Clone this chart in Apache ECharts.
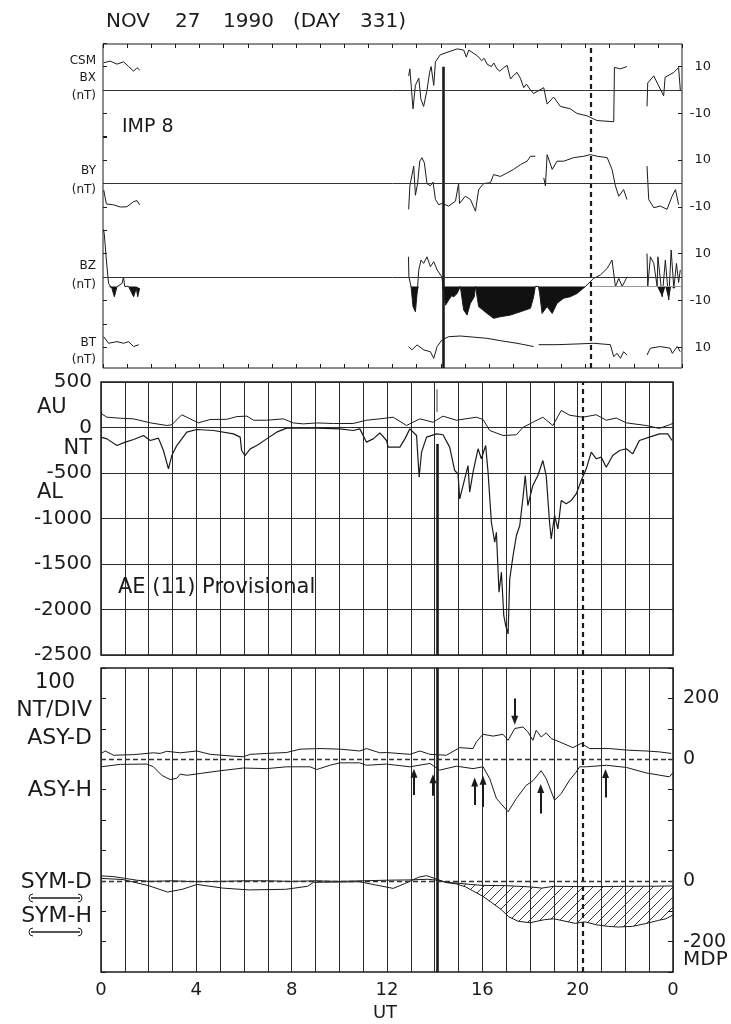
<!DOCTYPE html>
<html>
<head>
<meta charset="utf-8">
<script src="https://cdn.jsdelivr.net/npm/echarts@6/dist/echarts.min.js"></script>
<style>
  html, body { margin: 0; padding: 0; background: #ffffff; }
  #chart { width: 731px; height: 1024px; }
</style>
</head>
<body>
<div id="chart"></div>
<script>
// ---------------------------------------------------------------
// 27 November 1990 (day 331): IMP 8 field, AE indices, ASY/SYM
// All series are [UT hour, value]; null breaks a line at a data gap.
// ---------------------------------------------------------------

// IMP 8 field components (nT)
const BX = [
  [0.03,11.6],[0.3,12.3],[0.58,11],[0.85,12],[1.06,10],[1.27,8],[1.41,9.5],[1.52,8.5],[1.6,null],
  [12.67,6],[12.72,9],[12.85,-8],[12.95,2],[13.09,5],[13.18,-4],[13.29,-7],[13.43,0],[13.54,7.5],
  [13.6,10],[13.71,2],[13.78,12],[13.98,15],[14.26,16],[14.68,17.5],[14.95,17],[15.06,14],[15.16,17],
  [15.51,14.6],[15.7,12.5],[15.8,13.5],[15.92,11],[16.1,10],[16.2,11.5],[16.33,9],[16.45,8],[16.61,9.5],
  [16.75,10.5],[16.89,4.7],[17.0,6],[17.16,7.5],[17.3,5],[17.44,1],[17.55,2.5],[17.72,0],[17.85,-1.5],
  [17.92,-1],[18.27,1],[18.41,-6],[18.68,-3],[18.96,-7],[19.37,-8],[19.65,-10],[20.07,-11],[20.48,-13],
  [21.17,-13.5],[21.2,9.6],[21.45,9],[21.72,10],[21.8,null],
  [22.55,-7],[22.58,3],[22.83,6],[23.24,-2.5],[23.3,5.4],[23.66,7.5],[23.86,9.6],[23.93,0]
];
const BY = [
  [0.03,-2.8],[0.14,-8.7],[0.44,-9.1],[0.72,-10],[0.99,-9.9],[1.27,-7.7],[1.41,-7.3],[1.52,-9.1],[1.6,null],
  [12.67,-11],[12.72,-1],[12.88,7.4],[12.95,-5],[13.04,0],[13.13,9.5],[13.22,11],[13.32,8.8],[13.43,0],
  [13.57,-1],[13.68,0.6],[13.78,-6.8],[13.91,-9],[14.05,-8.5],[14.33,-9.6],[14.61,-7.5],[14.74,0],
  [14.78,-8.5],[15.02,-5.4],[15.23,-6.8],[15.44,-11.8],[15.57,-2.6],[15.78,0],[16.06,0.3],[16.19,3.8],
  [16.47,3],[16.75,4.5],[17.02,6],[17.3,8],[17.58,9.5],[17.72,11.6],[17.92,11.6],[17.95,null],
  [18.27,2.4],[18.34,-1],[18.41,12.3],[18.62,6],[18.82,9.5],[19.1,9.5],[19.51,11],[19.93,11.6],
  [20.2,12.3],[20.48,11.6],[20.9,11],[21.1,6],[21.24,-1],[21.38,-5.4],[21.58,-2.6],[21.72,-6.8],[21.8,null],
  [22.55,7.4],[22.62,-6.8],[22.83,-10.3],[23.1,-9.6],[23.38,-11],[23.59,-5.4],[23.73,-2.6],[23.86,-9]
];
const BZ = [
  [0.0,21],[0.05,18.6],[0.14,7.2],[0.23,-2.7],[0.37,-4.8],[0.47,-8.4],[0.58,-4.1],[0.79,-2.7],[0.85,0],
  [0.9,-4],[1.06,-4],[1.27,-8.4],[1.38,-4.8],[1.44,-8.4],[1.52,-4.8],[1.6,null],
  [12.66,8.6],[12.68,0],[12.77,-4.1],[12.85,-12.6],[12.95,-14.8],[13.02,-7],[13.09,3],[13.18,7.2],
  [13.29,5.8],[13.43,8.6],[13.57,4.4],[13.71,6.5],[13.85,3],[14.05,0],[14.12,-7],[14.2,-12],[14.33,-9.8],
  [14.45,-8],[14.54,-8.4],[14.68,-7],[14.81,-4],[14.95,-14],[15.09,-16.2],[15.23,-11.2],[15.39,-8.4],
  [15.44,-4],[15.57,-12.6],[15.92,-15.5],[16.19,-17.6],[16.47,-16.9],[16.89,-16.2],[17.3,-14.8],
  [17.72,-13.3],[17.85,-8.4],[17.92,-4],[18.05,-4],[18.1,-7],[18.2,-15.5],[18.41,-12.6],[18.62,-15.5],
  [18.82,-11.2],[19.1,-9],[19.37,-8.4],[19.65,-7],[20.0,-4],[20.34,-0.6],[20.62,0.9],[20.9,3.7],
  [21.1,7.2],[21.24,-4.1],[21.38,-0.6],[21.52,-4],[21.72,0],[21.8,null],
  [22.55,10],[22.58,-4],[22.69,8.6],[22.83,5.8],[22.97,-4],[23.0,8.6],[23.18,-8.4],[23.31,7.2],
  [23.45,-9.8],[23.55,11.5],[23.66,-4.8],[23.77,5.8],[23.86,-2.3],[23.93,3]
];
const BT = [
  [0.03,14.6],[0.23,11.8],[0.58,12.5],[0.85,11.8],[1.06,12.5],[1.27,10.4],[1.48,11.2],[1.6,null],
  [12.67,10.4],[12.8,9],[13.02,11.1],[13.29,9],[13.57,8.2],[13.71,5.4],[13.85,10.4],[14.05,13.2],
  [14.33,14.6],[14.81,14.9],[15.37,14.4],[15.92,13.9],[16.47,12.9],[17.16,11.8],[17.85,10.4],[17.95,null],
  [18.06,11.2],[18.82,11.2],[19.65,11.5],[20.34,11.8],[21.03,11.2],[21.17,6.1],[21.31,7.5],[21.45,5.4],
  [21.58,8.2],[21.72,6.8],[21.8,null],
  [22.55,6.8],[22.69,9.7],[23.1,10.4],[23.51,9.7],[23.6,7.5],[23.8,10.4],[23.93,8.2]
];
// BZ values below this level are shaded
const BZ_SHADE_LEVEL = -4;

// AE(11) provisional indices (nT)
const AU = [
  [0,154],[0.25,113],[0.81,102],[1.37,95],[2.07,51],[2.76,22],[2.97,30],[3.39,140],[3.74,95],[4.09,51],
  [4.58,88],[5.28,90],[5.7,120],[6.12,125],[6.4,80],[6.95,80],[7.65,95],[8.07,50],[8.49,40],[9.05,50],
  [9.75,44],[10.58,44],[11.14,80],[11.7,95],[12.26,113],[12.82,22],[13.38,95],[13.93,58],[14.35,125],
  [14.91,80],[15.75,113],[16.03,88],[16.31,-33],[16.87,-88],[17.43,-80],[17.7,0],[18.12,58],[18.54,113],
  [18.96,22],[19.31,187],[19.66,135],[20.22,113],[20.78,140],[21.2,80],[21.62,104],[22.04,51],
  [22.87,22],[23.43,-10],[23.85,30],[24,45]
];
const AL = [
  [0,-106],[0.25,-125],[0.67,-198],[1.02,-161],[1.37,-132],[1.78,-88],[2.07,-143],[2.41,-117],[2.62,-253],
  [2.83,-454],[2.97,-308],[3.18,-198],[3.6,-51],[4.02,-22],[4.72,-33],[5.56,-70],[5.84,-106],[5.9,-253],
  [6.04,-308],[6.26,-235],[6.54,-198],[6.95,-125],[7.37,-51],[7.79,-7],[9.05,-7],[10.03,-15],[10.58,-33],
  [10.86,-15],[11.14,-161],[11.42,-125],[11.7,-60],[11.98,-143],[12.05,-216],[12.54,-216],[12.75,-125],
  [12.96,-15],[13.24,-88],[13.35,-546],[13.45,-271],[13.66,-106],[14.08,-70],[14.35,-80],[14.63,-216],
  [14.84,-473],[14.98,-510],[15.05,-784],[15.26,-564],[15.4,-418],[15.47,-711],[15.61,-491],[15.82,-234],
  [15.96,-344],[16.14,-198],[16.24,-491],[16.38,-1041],[16.52,-1261],[16.59,-1151],[16.7,-1810],
  [16.8,-1590],[16.9,-2066],[16.98,-2176],[17.08,-2268],[17.15,-1663],[17.29,-1407],[17.43,-1187],
  [17.57,-1077],[17.7,-784],[17.8,-528],[17.91,-857],[18.12,-637],[18.33,-528],[18.54,-363],[18.68,-528],
  [18.82,-1041],[18.89,-1224],[19.03,-967],[19.17,-1114],[19.31,-802],[19.52,-838],[19.73,-802],
  [19.94,-729],[20.15,-582],[20.36,-454],[20.57,-271],[20.78,-344],[20.99,-326],[21.2,-436],[21.47,-308],
  [21.76,-253],[22.04,-234],[22.31,-290],[22.59,-143],[23.01,-106],[23.43,-70],[23.78,-70],[23.96,-143]
];

// Mid-latitude asymmetric and symmetric disturbance indices (nT)
const ASY_D = [
  [0,19],[0.18,27],[0.53,13],[1.37,15],[2.2,21],[2.48,19],[2.76,26],[3.32,21],[4.02,27],[4.58,16],
  [5.56,10],[5.97,8],[6.26,16],[6.95,19],[7.79,22],[8.35,33],[9.19,35],[10.03,33],[10.86,27],[11.14,35],
  [11.7,21],[11.98,22],[12.96,16],[13.38,27],[13.8,16],[14.49,13],[15.05,38],[15.61,35],[15.75,57],
  [16.03,82],[16.45,76],[16.87,82],[17.08,62],[17.36,101],[17.71,106],[17.91,90],[18.12,62],[18.26,95],
  [18.47,73],[18.68,87],[18.89,68],[19.24,57],[19.8,38],[20.15,52],[20.5,35],[21.34,35],[22.04,30],
  [22.87,27],[23.43,24],[23.92,19]
];
const ASY_H = [
  [0,-25],[0.81,-17],[1.93,-16],[2.2,-25],[2.55,-53],[2.9,-67],[3.18,-63],[3.32,-49],[3.6,-53],[4.16,-47],
  [5.0,-38],[5.97,-29],[6.95,-31],[7.79,-25],[8.77,-25],[9.05,-34],[9.6,-20],[10.03,-12],[10.86,-12],
  [11.14,-20],[11.98,-16],[12.96,-25],[13.8,-14],[14.21,-36],[14.91,-23],[15.61,-31],[16.03,-25],
  [16.31,-64],[16.59,-129],[17.08,-173],[17.43,-129],[17.84,-86],[18.12,-71],[18.47,-38],[18.68,-64],
  [19.03,-135],[19.31,-113],[19.66,-69],[19.94,-42],[20.08,-25],[20.36,-25],[21.2,-20],[22.04,-27],
  [22.87,-45],[23.85,-58],[23.99,-45]
];
const SYM_D = [
  [0,16],[0.5,14],[1.0,8],[1.5,2],[2.0,-2],[3,0],[4,-3],[5,-2],[6,0],[7,0],[8,-2],[9,0],[10,-2],[11,0],
  [12,2],[13,3],[13.7,5],[14.1,2],[14.5,-5],[15,-8],[15.5,-12],[16,-15],[17,-16],[18,-20],[18.5,-24],
  [19,-18],[20,-19],[21,-19],[22,-18],[23,-18],[24,-17]
];
const SYM_H = [
  [0,8],[0.92,4],[2.0,-16],[2.79,-37],[3.41,-28],[4.03,-12],[5.11,-24],[6.2,-30],[7.75,-28],[8.67,-18],
  [8.92,-5],[10.85,-3],[11.48,-13],[12.26,-25],[12.72,-10],[13.34,12],[13.66,17],[14.1,5],[14.5,-6],
  [14.9,-10],[15.3,-20],[15.6,-33],[16.0,-50],[16.4,-72],[16.8,-95],[17.1,-118],[17.5,-133],[18.0,-138],
  [18.3,-133],[18.6,-128],[19.0,-125],[19.3,-130],[19.9,-140],[20.3,-135],[20.8,-145],[21.3,-150],
  [21.7,-152],[22.3,-150],[22.9,-140],[23.4,-130],[23.7,-125],[24,-112]
];
// SYM-H below SYM-D is hatched from this hour on
const HATCH_FROM = 14.5;

// Event times (UT) marked across all panels
const EVENT_SOLID = 14.1;
const EVENT_DASHED = 20.2;

// Onset arrows on the ASY scale: [UT, tail, head]
const ARROWS_UP = [[13.13,-118,-46],[13.93,-120,-64],[15.68,-151,-75],[16.03,-157,-69],[18.45,-179,-96],[21.17,-126,-47]];
const ARROWS_DOWN = [[17.36,200,128]];

// Tick labels
const UT_TICKS = [0,4,8,12,16,20,24];
const AE_TICK_STEP = 500;
const ASY_LABELS = [200, 0];
const SYM_LABELS = [0, -200];

// ---------------------------------------------------------------
const INK = '#1b1b1b';
const FONT = 'DejaVu Sans';

// diagonal hatch tile
const hatch = document.createElement('canvas');
hatch.width = 10; hatch.height = 10;
(function () {
  const c = hatch.getContext('2d');
  c.strokeStyle = '#222'; c.lineWidth = 0.9;
  c.beginPath();
  c.moveTo(0, 10); c.lineTo(10, 0);
  c.moveTo(-1, 1); c.lineTo(1, -1);
  c.moveTo(9, 11); c.lineTo(11, 9);
  c.stroke();
})();

const thick = { color: INK, width: 2.6, type: 'solid' };
const dashed = { color: INK, width: 2.2, type: [5, 4] };
const zeroSolid = { color: '#333', width: 1, type: 'solid' };
const zeroDashed = { color: '#333', width: 1.3, type: [5, 3] };

function markLines(data, extra) {
  return Object.assign({
    silent: true, symbol: ['none', 'none'], label: { show: false },
    emphasis: { disabled: true }, animation: false, data
  }, extra || {});
}
function line(name, data, xi, yi, extra) {
  return Object.assign({
    name, type: 'line', data, xAxisIndex: xi, yAxisIndex: yi,
    showSymbol: false, symbol: 'none', connectNulls: false, silent: true,
    animation: false, lineStyle: { color: INK, width: 1 }, z: 3
  }, extra || {});
}
function xBase(grid, extra) {
  return Object.assign({
    type: 'value', gridIndex: grid, min: 0, max: 24, interval: 1,
    axisLine: { show: false }, axisTick: { show: false },
    axisLabel: { show: false }, splitLine: { show: false }
  }, extra || {});
}
function subPanelAxes(grid, leftTicks, rightMarks) {
  const base = { type: 'value', gridIndex: grid, min: -20, max: 20, interval: 10,
                 axisLine: { show: false }, splitLine: { show: false } };
  return [
    Object.assign({}, base, {
      position: 'left', axisLabel: { show: false },
      axisTick: { show: true, inside: true, length: 4, lineStyle: { color: INK }, customValues: leftTicks }
    }),
    Object.assign({}, base, {
      position: 'right',
      axisTick: { show: true, inside: true, length: 4, lineStyle: { color: INK }, customValues: rightMarks },
      axisLabel: { show: true, customValues: rightMarks, align: 'right', margin: 29,
                   padding: [7, 0, 0, 0], color: INK, fontFamily: FONT, fontSize: 13,
                   formatter: v => String(v) }
    })
  ];
}

const gridCommon = { outerBoundsMode: 'none', containLabel: false };
const grids = [
  Object.assign({ left: 103, top: 44, width: 579, height: 324, show: true, borderColor: INK, borderWidth: 1 }, gridCommon), // IMP 8 frame
  Object.assign({ left: 103, top: 43, width: 579, height: 94 }, gridCommon),     // BX
  Object.assign({ left: 103, top: 136.5, width: 579, height: 94 }, gridCommon),  // BY
  Object.assign({ left: 103, top: 230, width: 579, height: 94 }, gridCommon),    // BZ
  Object.assign({ left: 103, top: 324, width: 579, height: 94 }, gridCommon),    // BT
  Object.assign({ left: 101, top: 382, width: 572, height: 273, show: true, borderColor: INK, borderWidth: 1.5 }, gridCommon), // AE
  Object.assign({ left: 101, top: 668, width: 572, height: 304, show: true, borderColor: INK, borderWidth: 1.5 }, gridCommon)  // ASY / SYM
];

const hourGrid = { show: true, lineStyle: { color: '#2a2a2a', width: 1 } };
const xAxes = [
  xBase(0, { position: 'bottom', axisTick: { show: true, inside: true, length: 4, lineStyle: { color: INK } } }), // 0
  xBase(0, { position: 'top', axisTick: { show: true, inside: true, length: 4, lineStyle: { color: INK } } }),    // 1
  xBase(1), xBase(2), xBase(3), xBase(4),                                                                         // 2..5
  xBase(5, { splitLine: hourGrid }),                                                                              // 6
  xBase(6, { splitLine: hourGrid,                                                                                 // 7
    axisLabel: { show: true, customValues: UT_TICKS, formatter: v => String(v % 24),
                 color: INK, fontFamily: FONT, fontSize: 18, margin: 9 } })
];

const yAxes = [
  { type: 'value', gridIndex: 0, min: 0, max: 1, show: false },          // 0 frame
  ...subPanelAxes(1, undefined, [-10, 10]),                               // 1,2 BX
  ...subPanelAxes(2, undefined, [-10, 10]),                               // 3,4 BY
  ...subPanelAxes(3, undefined, [-10, 10]),                               // 5,6 BZ
  ...subPanelAxes(4, [10, 20], [10]),                                     // 7,8 BT
  { type: 'value', gridIndex: 5, min: -2500, max: 500, interval: AE_TICK_STEP, position: 'left', // 9 AE
    axisLine: { show: false }, axisTick: { show: false },
    splitLine: { show: true, lineStyle: { color: '#2a2a2a', width: 1 } },
    axisLabel: { color: INK, fontFamily: FONT, fontSize: 20, margin: 9, formatter: v => String(v) } },
  { type: 'value', gridIndex: 6, min: -700, max: 300, interval: 100, position: 'left',          // 10 ASY (left ticks)
    axisLine: { show: false }, splitLine: { show: false }, axisLabel: { show: false },
    axisTick: { show: true, inside: true, length: 5, lineStyle: { color: INK } } },
  { type: 'value', gridIndex: 6, min: -700, max: 300, interval: 100, position: 'right',         // 11 ASY (right)
    axisLine: { show: false }, splitLine: { show: false },
    axisTick: { show: true, inside: true, length: 5, lineStyle: { color: INK } },
    axisLabel: { customValues: ASY_LABELS, color: INK, fontFamily: FONT, fontSize: 19, margin: 10, formatter: v => String(v) } },
  { type: 'value', gridIndex: 6, min: -300, max: 700, interval: 100, position: 'right',         // 12 SYM
    axisLine: { show: false }, splitLine: { show: false }, axisTick: { show: false },
    axisLabel: { customValues: SYM_LABELS, color: INK, fontFamily: FONT, fontSize: 19, margin: 10, formatter: v => String(v) } }
];

const BZ_SHADE = BZ.map(([t, v]) => [t, v === null ? null : Math.min(v, BZ_SHADE_LEVEL)]);

const series = [
  // event lines through the IMP 8 frame
  line('frame', [[0, null]], 0, 0, {
    markLine: markLines([
      [{ coord: [EVENT_SOLID, 0.93], lineStyle: thick }, { coord: [EVENT_SOLID, 0] }],
      { xAxis: EVENT_DASHED, lineStyle: dashed }
    ])
  }),
  line('BX', BX, 2, 1, { markLine: markLines([{ yAxis: 0, lineStyle: zeroSolid }]) }),
  line('BY', BY, 3, 3, { markLine: markLines([{ yAxis: 0, lineStyle: zeroSolid }]) }),
  line('BZ shade', BZ_SHADE, 4, 5, {
    lineStyle: { width: 0 }, areaStyle: { origin: BZ_SHADE_LEVEL, color: '#111', opacity: 1 }, z: 2
  }),
  line('BZ', BZ, 4, 5, {
    markLine: markLines([
      { yAxis: 0, lineStyle: zeroSolid },
      [{ coord: [20.3, BZ_SHADE_LEVEL], lineStyle: { color: '#9a9a9a', width: 1, type: 'solid' } },
       { coord: [24, BZ_SHADE_LEVEL] }]
    ])
  }),
  line('BT', BT, 5, 7),

  line('AU', AU, 6, 9),
  line('AL', AL, 6, 9, {
    lineStyle: { color: INK, width: 1.2 },
    markLine: markLines([
      [{ coord: [EVENT_SOLID, -180], lineStyle: thick }, { coord: [EVENT_SOLID, -2500] }],
      [{ coord: [EVENT_SOLID, 420], lineStyle: { color: '#a0a0a0', width: 2, type: 'solid' } }, { coord: [EVENT_SOLID, 170] }],
      { xAxis: EVENT_DASHED, lineStyle: dashed }
    ])
  }),

  {
    name: 'SYM hatch', type: 'custom', xAxisIndex: 7, yAxisIndex: 12, data: [[0, 0]],
    silent: true, animation: false, z: 2,
    renderItem: function (params, api) {
      const low = SYM_H.filter(p => p[0] >= HATCH_FROM).map(p => api.coord(p));
      const up = SYM_D.filter(p => p[0] >= HATCH_FROM).map(p => api.coord(p)).reverse();
      return {
        type: 'polygon', shape: { points: low.concat(up) },
        style: { fill: { image: hatch, repeat: 'repeat' }, stroke: null }
      };
    }
  },
  line('ASY-D', ASY_D, 7, 10, {
    markLine: markLines([
      { yAxis: 0, lineStyle: zeroDashed },
      { xAxis: EVENT_SOLID, lineStyle: thick },
      { xAxis: EVENT_DASHED, lineStyle: dashed }
    ])
  }),
  line('ASY-H', ASY_H, 7, 10, {
    markLine: markLines(
      ARROWS_UP.concat(ARROWS_DOWN).map(([t, tail, head]) => [
        { coord: [t, tail], lineStyle: { color: INK, width: 2, type: 'solid' } },
        { coord: [t, head] }
      ]),
      { symbol: ['none', 'triangle'], symbolSize: [7, 9] }
    )
  }),
  line('SYM-D', SYM_D, 7, 12, { markLine: markLines([{ yAxis: 0, lineStyle: zeroDashed }]) }),
  line('SYM-H', SYM_H, 7, 12)
];

// ---- text ----
function txt(text, x, y, size, align, extra) {
  return {
    type: 'text', x, y, silent: true, z: 10,
    style: Object.assign({
      text, fill: INK, fontFamily: FONT, fontSize: size,
      align: align || 'right', verticalAlign: 'middle'
    }, extra || {})
  };
}
function legendBracket(y) {
  return [
    { type: 'line', silent: true, shape: { x1: 31, y1: y, x2: 80, y2: y }, style: { stroke: INK, lineWidth: 1.6 } },
    { type: 'arc', silent: true, shape: { cx: 33, cy: y, r: 4, startAngle: Math.PI / 2, endAngle: Math.PI * 1.5 },
      style: { stroke: INK, lineWidth: 1, fill: null } },
    { type: 'arc', silent: true, shape: { cx: 78, cy: y, r: 4, startAngle: -Math.PI / 2, endAngle: Math.PI / 2 },
      style: { stroke: INK, lineWidth: 1, fill: null } }
  ];
}

const graphic = [
  // heading
  txt('NOV', 106, 22, 20, 'left'),
  txt('27', 175, 22, 20, 'left'),
  txt('1990', 223, 22, 20, 'left'),
  txt('(DAY', 293, 22, 20, 'left'),
  txt('331)', 360, 22, 20, 'left'),
  // IMP 8 panel
  txt('CSM', 96, 61, 12), txt('BX', 96, 78, 12), txt('(nT)', 96, 96, 12),
  txt('BY', 96, 171, 12), txt('(nT)', 96, 190, 12),
  txt('BZ', 96, 266, 12), txt('(nT)', 96, 285, 12),
  txt('BT', 96, 343, 12), txt('(nT)', 96, 360, 12),
  txt('IMP 8', 122, 127, 19, 'left'),
  // AE panel
  txt('AU', 37, 408, 21, 'left'),
  txt('NT', 92, 449, 21),
  txt('AL', 37, 493, 21, 'left'),
  txt('AE (11) Provisional', 118, 588, 21, 'left'),
  // ASY / SYM panel
  txt('100', 55, 683, 21, 'center'),
  txt('NT/DIV', 92, 710, 22),
  txt('ASY-D', 92, 738, 22),
  txt('ASY-H', 92, 790, 22),
  txt('SYM-D', 92, 882, 22),
  txt('SYM-H', 92, 916, 22),
  ...legendBracket(898),
  ...legendBracket(932),
  txt('MDP', 683, 960, 20, 'left'),
  txt('UT', 385, 1013, 18, 'center')
];

const chart = echarts.init(document.getElementById('chart'), null, { renderer: 'canvas' });
chart.setOption({
  backgroundColor: '#ffffff',
  animation: false,
  textStyle: { fontFamily: FONT, color: INK },
  grid: grids,
  xAxis: xAxes,
  yAxis: yAxes,
  series,
  graphic
});
</script>
</body>
</html>
